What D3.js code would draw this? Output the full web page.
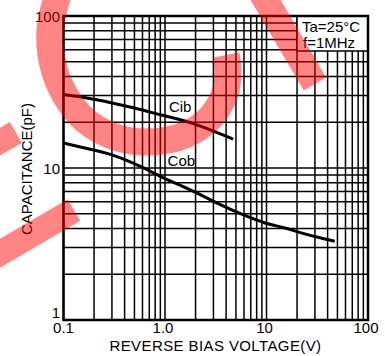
<!DOCTYPE html>
<html>
<head>
<meta charset="utf-8">
<script src="https://cdn.jsdelivr.net/npm/d3@7"></script>
<style>
  html, body { margin: 0; padding: 0; background: #fff; }
  svg { display: block; }
  text { font-family: "Liberation Sans", Arial, sans-serif; fill: #000; }
</style>
</head>
<body>
<svg id="chart" width="385" height="356"></svg>
<script>
// ---- data ----
const cibVoltage = [0.1, 0.15, 0.3, 0.5, 0.9, 1.9, 3, 4.7];
const cibCap     = [30.5, 29.3, 26.8, 24.8, 22.4, 19.6, 17.5, 15.5];
const cobVoltage = [0.1, 0.15, 0.3, 0.6, 1.0, 1.57, 2.2, 3.3, 6.1, 9.7, 15.2, 22.4, 32, 47];
const cobCap     = [14.6, 13.7, 12.2, 10.1, 8.5, 7.45, 6.7, 5.85, 4.88, 4.35, 4.03, 3.73, 3.5, 3.3];
const xTickValues = [0.1, 1, 10, 100];
const xTickLabels = ["0.1", "1.0", "10", "100"];
const yTickValues = [100, 10, 1];
const yTickLabels = ["100", "10", "1"];
const xLabel = "REVERSE BIAS VOLTAGE(V)";
const yLabel = "CAPACITANCE(pF)";
const seriesNames = ["Cib", "Cob"];
const seriesLabelAt = [[1.41, 25.2], [1.45, 11.2]];
const conditionLines = ["Ta=25°C", "f=1MHz"];

// ---- layout ----
const svg = d3.select("#chart");
const pLeft = 63.5, pRight = 368, pTop = 16, pBottom = 320;
const x = d3.scaleLog().domain([0.1, 100]).range([pLeft, pRight]);
const y = d3.scaleLog().domain([1, 100]).range([pBottom, pTop]);

// grid lines (all 1..9 multiples per decade)
const xGrid = [];
[0.1, 1, 10].forEach(d => { for (let k = 1; k <= 9; k++) xGrid.push(d * k); });
xGrid.push(100);
const yGrid = [];
[1, 10].forEach(d => { for (let k = 1; k <= 9; k++) yGrid.push(d * k); });
yGrid.push(100);

const grid = svg.append("g").attr("stroke", "#000").attr("stroke-width", 1.5);
grid.selectAll("line.v").data(xGrid).join("line")
  .attr("x1", d => x(d)).attr("x2", d => x(d))
  .attr("y1", pTop).attr("y2", pBottom);
grid.selectAll("line.h").data(yGrid).join("line")
  .attr("x1", pLeft).attr("x2", pRight)
  .attr("y1", d => y(d)).attr("y2", d => y(d));

// conditions box
const boxX = 297, boxY2 = 51;
svg.append("rect")
  .attr("x", boxX).attr("y", pTop).attr("width", pRight - boxX).attr("height", boxY2 - pTop)
  .attr("fill", "#fff").attr("stroke", "#000").attr("stroke-width", 1.5);
svg.append("g").selectAll("text").data(conditionLines).join("text")
  .attr("x", (d, i) => i === 0 ? 302 : 303)
  .attr("y", (d, i) => i === 0 ? 32 : 48)
  .attr("font-size", 15)
  .text(d => d);

// plot frame
svg.append("rect")
  .attr("x", pLeft).attr("y", pTop).attr("width", pRight - pLeft).attr("height", pBottom - pTop)
  .attr("fill", "none").attr("stroke", "#000").attr("stroke-width", 2.5);

// curves
const line = d3.line().x(d => x(d[0])).y(d => y(d[1])).curve(d3.curveMonotoneX);
const series = [
  d3.zip(cibVoltage, cibCap),
  d3.zip(cobVoltage, cobCap)
];
svg.append("g").selectAll("path").data(series).join("path")
  .attr("d", line)
  .attr("fill", "none").attr("stroke", "#000").attr("stroke-width", 3)
  .attr("stroke-linejoin", "round");

// series labels
svg.append("g").selectAll("text").data(seriesNames).join("text")
  .attr("x", (d, i) => x(seriesLabelAt[i][0]))
  .attr("y", (d, i) => y(seriesLabelAt[i][1]))
  .attr("text-anchor", "middle").attr("dominant-baseline", "central")
  .attr("font-size", 15)
  .text(d => d);

// x tick labels
svg.append("g").selectAll("text").data(xTickValues).join("text")
  .attr("x", d => x(d) - (d >= 1 ? 2 : 0))
  .attr("y", 333)
  .attr("text-anchor", "middle")
  .attr("font-size", 15)
  .text((d, i) => xTickLabels[i]);

// y tick labels
svg.append("g").selectAll("text").data(yTickValues).join("text")
  .attr("x", 60)
  .attr("y", d => y(d) + (d === 1 ? -2 : 6))
  .attr("text-anchor", "end")
  .attr("font-size", 15)
  .text((d, i) => yTickLabels[i]);

// axis titles
svg.append("text")
  .attr("x", 215.5).attr("y", 351)
  .attr("text-anchor", "middle").attr("font-size", 15)
  .attr("letter-spacing", 0.4)
  .text(xLabel);
svg.append("text")
  .attr("transform", "translate(32,169) rotate(-90)")
  .attr("text-anchor", "middle").attr("font-size", 15)
  .text(yLabel);

// ---- red watermark overlay (decoration, not data) ----
const wm = svg.append("g").attr("fill", "none").attr("stroke", "red")
  .attr("stroke-opacity", 0.48).attr("stroke-linecap", "butt");
const arcPts = [[60,-12],[50,30],[53,65],[65,95],[85,120],[115,137],[150,142],[185,135],[210,118],[225,93],[228,70],[226,55]];
wm.append("path").attr("d", d3.line().curve(d3.curveCatmullRom)(arcPts)).attr("stroke-width", 27);
wm.append("path").attr("d", d3.line()([[258,-13],[315,84]])).attr("stroke-width", 26);
wm.append("path").attr("d", d3.line()([[-10,259],[74,210]])).attr("stroke-width", 25);
wm.append("path").attr("d", d3.line()([[16,132.5],[-30,159]])).attr("stroke-width", 24);
</script>
</body>
</html>
